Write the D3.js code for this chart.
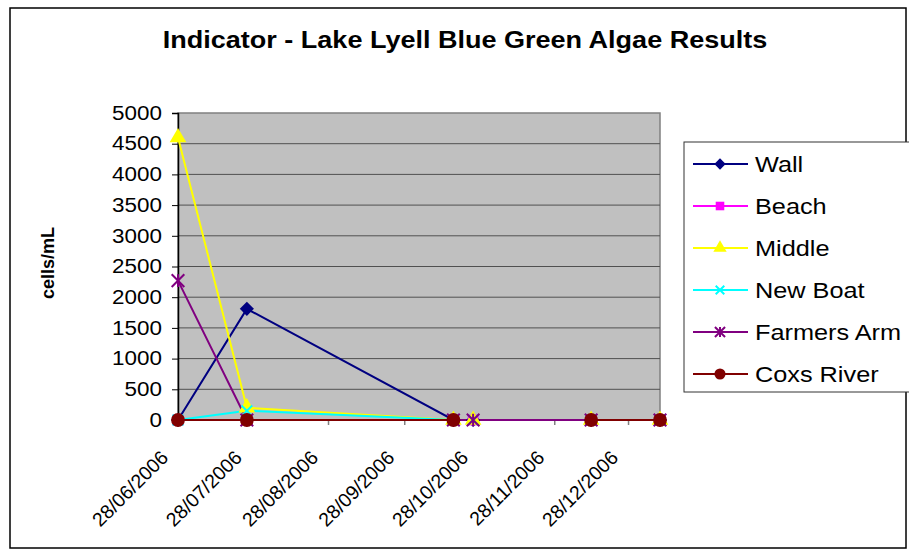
<!DOCTYPE html>
<html>
<head>
<meta charset="utf-8">
<script src="https://cdn.jsdelivr.net/npm/d3@7"></script>
<style>
  html, body { margin: 0; padding: 0; background: #fff; }
  .renderer { width: 909px; height: 560px; }
  text { font-family: "Liberation Sans", Arial, sans-serif; fill: #000; }
</style>
</head>
<body>
<div class="renderer" id="chart"></div>
<script>
// sample dates (all sites share them)
const sampleDates = ['2006-06-28', '2006-07-26', '2006-10-18', '2006-10-26', '2006-12-13', '2007-01-10']

const seriesNames = ['Wall', 'Beach', 'Middle', 'New Boat', 'Farmers Arm', 'Coxs River']
const wall = [0, 1810, 0, 0, 0, 0]
const beach = [0, 0, 0, 0, 0, 0]
const middle = [4600, 200, 0, 0, 0, 0]
const newBoat = [0, 150, 0, 0, 0, 0]
const farmersArm = [2270, 0, 0, 0, 0, 0]
const coxsRiver = [0, 0, 0, null, 0, 0]

const xTickDates = ['2006-06-28', '2006-07-28', '2006-08-28', '2006-09-28', '2006-10-28', '2006-11-28', '2006-12-28']
const xTickLabels = ['28/06/2006', '28/07/2006', '28/08/2006', '28/09/2006', '28/10/2006', '28/11/2006', '28/12/2006']
const yTickValues = [0, 500, 1000, 1500, 2000, 2500, 3000, 3500, 4000, 4500, 5000]

const colors = ['#000080', '#ff00ff', '#ffff00', '#00ffff', '#800080', '#800000']
const markers = ['diamond', 'square', 'triangle', 'x', 'star', 'circle']

const width = 909
const height = 560
const sx = 1.15 // text in the picture is a bit wide
const parse = d3.timeParse('%Y-%m-%d')

const svg = d3
  .select('#chart')
  .append('svg')
  .attr('width', width)
  .attr('height', height)

// outer frame
svg
  .append('rect')
  .attr('x', 10)
  .attr('y', 8)
  .attr('width', 896)
  .attr('height', 540)
  .attr('fill', '#fff')
  .attr('stroke', '#000')
  .attr('stroke-width', 1.5)

svg
  .append('text')
  .attr('transform', `translate(465,48) scale(${sx},1)`)
  .attr('text-anchor', 'middle')
  .attr('font-size', 23.5)
  .attr('font-weight', 'bold')
  .text('Indicator - Lake Lyell Blue Green Algae Results')

const plot = { left: 178, right: 660, top: 113, bottom: 420 }

const dates = sampleDates.map(parse)
const x = d3.scaleTime().domain(d3.extent(dates)).range([plot.left, plot.right])
const y = d3.scaleLinear().domain([0, 5000]).range([plot.bottom, plot.top])

// plot background
svg
  .append('rect')
  .attr('x', plot.left)
  .attr('y', plot.top)
  .attr('width', plot.right - plot.left)
  .attr('height', plot.bottom - plot.top)
  .attr('fill', '#c0c0c0')
  .attr('stroke', '#808080')
  .attr('stroke-width', 1.5)

// gridlines
svg
  .append('g')
  .selectAll('line')
  .data(yTickValues.filter((d) => d > 0 && d < 5000))
  .enter()
  .append('line')
  .attr('x1', plot.left)
  .attr('x2', plot.right)
  .attr('y1', (d) => y(d))
  .attr('y2', (d) => y(d))
  .attr('stroke', '#505050')
  .attr('stroke-width', 1)

// y axis
const yAxis = svg
  .append('g')
  .attr('transform', `translate(${plot.left},0)`)
  .call(d3.axisLeft(y).tickValues(yTickValues).tickFormat(d3.format('d')).tickSize(6).tickPadding(8))
yAxis.select('.domain').attr('stroke', '#000').attr('stroke-width', 1.5)
yAxis.selectAll('.tick line').attr('stroke', '#000')
yAxis
  .selectAll('.tick text')
  .attr('font-size', 19.5)
  .attr('font-family', '"Liberation Sans", Arial, sans-serif')
  .attr('transform', `scale(${sx},1)`)

svg
  .append('text')
  .attr('transform', 'translate(54,263) rotate(-90)')
  .attr('text-anchor', 'middle')
  .attr('font-size', 18)
  .attr('font-weight', 'bold')
  .text('cells/mL')

// x axis (ticks + rotated labels)
const xAxis = svg
  .append('g')
  .attr('transform', `translate(0,${plot.bottom})`)
  .call(
    d3
      .axisBottom(x)
      .tickValues(xTickDates.map(parse))
      .tickSize(5)
      .tickFormat((d, i) => xTickLabels[i])
  )
xAxis.select('.domain').remove()
xAxis.selectAll('.tick line').attr('stroke', '#808080').attr('stroke-width', 1.5)
xAxis
  .selectAll('.tick text')
  .attr('x', 0)
  .attr('y', 0)
  .attr('dy', '0.35em')
  .attr('text-anchor', 'end')
  .attr('font-size', 19.5)
  .attr('font-family', '"Liberation Sans", Arial, sans-serif')
  .attr('transform', 'translate(-14,34) rotate(-45)')

// marker shapes
const starType = {
  draw(ctx, size) {
    const r = Math.sqrt(size) / 2
    ctx.moveTo(0, -r)
    ctx.lineTo(0, r)
    ctx.moveTo(-r, -r)
    ctx.lineTo(r, r)
    ctx.moveTo(-r, r)
    ctx.lineTo(r, -r)
  }
}
const crossType = {
  draw(ctx, size) {
    const r = Math.sqrt(size) / 2
    ctx.moveTo(-r, -r)
    ctx.lineTo(r, r)
    ctx.moveTo(-r, r)
    ctx.lineTo(r, -r)
  }
}

function drawMarker(g, type, color, k) {
  if (type === 'diamond') {
    g.append('path')
      .attr('d', d3.symbol(d3.symbolSquare, 100 * k * k)())
      .attr('transform', 'rotate(45)')
      .attr('fill', color)
  } else if (type === 'square') {
    g.append('path').attr('d', d3.symbol(d3.symbolSquare, 115 * k * k)()).attr('fill', color)
  } else if (type === 'triangle') {
    g.append('path').attr('d', d3.symbol(d3.symbolTriangle, 120 * k * k)()).attr('fill', color)
  } else if (type === 'circle') {
    g.append('path').attr('d', d3.symbol(d3.symbolCircle, 150 * k * k)()).attr('fill', color)
  } else if (type === 'x') {
    g.append('path')
      .attr('d', d3.symbol(crossType, 115 * k * k)())
      .attr('fill', 'none')
      .attr('stroke', color)
      .attr('stroke-width', 2)
  } else if (type === 'star') {
    g.append('path')
      .attr('d', d3.symbol(starType, 160 * k * k)())
      .attr('fill', 'none')
      .attr('stroke', color)
      .attr('stroke-width', 2)
  }
}

const series = [wall, beach, middle, newBoat, farmersArm, coxsRiver].map((values, i) => ({
  name: seriesNames[i],
  color: colors[i],
  marker: markers[i],
  points: values.map((v, j) => ({ date: dates[j], value: v }))
}))

const line = d3
  .line()
  .defined((d) => d.value !== null)
  .x((d) => x(d.date))
  .y((d) => y(d.value))

const seriesG = svg.append('g')
series.forEach((s) => {
  seriesG
    .append('path')
    .attr('d', line(s.points))
    .attr('fill', 'none')
    .attr('stroke', s.color)
    .attr('stroke-width', 2)
})
series.forEach((s) => {
  s.points
    .filter((d) => d.value !== null)
    .forEach((d) => {
      const g = seriesG.append('g').attr('transform', `translate(${x(d.date)},${y(d.value)})`)
      drawMarker(g, s.marker, s.color, 1)
    })
})

// legend
const legendY = d3.scalePoint().domain(seriesNames).range([164, 374])
svg
  .append('rect')
  .attr('x', 684)
  .attr('y', 142)
  .attr('width', 240)
  .attr('height', 250)
  .attr('fill', '#fff')
  .attr('stroke', '#333')
  .attr('stroke-width', 1)

const legend = svg
  .append('g')
  .selectAll('g')
  .data(series)
  .enter()
  .append('g')
  .attr('transform', (d) => `translate(0,${legendY(d.name)})`)

legend
  .append('line')
  .attr('x1', 693)
  .attr('x2', 748)
  .attr('stroke', (d) => d.color)
  .attr('stroke-width', 2)

legend.each(function (d) {
  const g = d3.select(this).append('g').attr('transform', 'translate(720,0)')
  drawMarker(g, d.marker, d.color, 0.8)
})

legend
  .append('text')
  .attr('transform', `translate(755,0) scale(${sx},1)`)
  .attr('dy', '0.35em')
  .attr('font-size', 22)
  .text((d) => d.name)
</script>
</body>
</html>
